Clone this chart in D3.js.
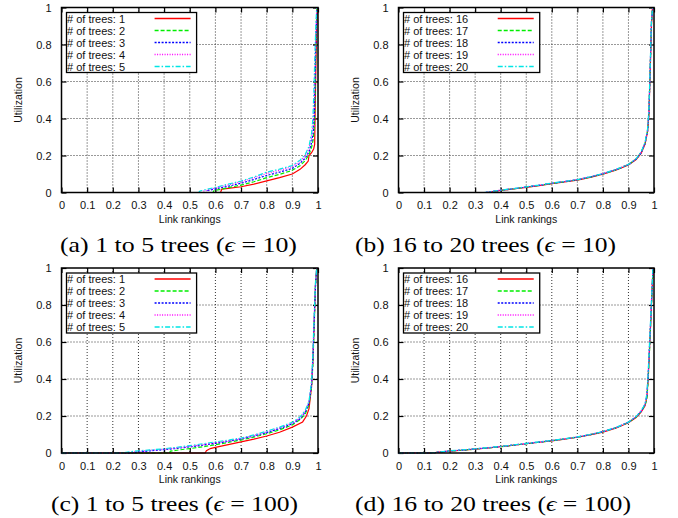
<!DOCTYPE html>
<html>
<head>
<meta charset="utf-8">
<script src="https://d3js.org/d3.v7.min.js"></script>
<style>
  body { margin: 0; background: #fff; }
  svg text { font-family: "Liberation Sans", Arial, sans-serif; fill: #111; }
</style>
</head>
<body>
<svg id="fig" width="678" height="518"></svg>
<script>
// tick values / labels
var xTicks = [0, 0.1, 0.2, 0.3, 0.4, 0.5, 0.6, 0.7, 0.8, 0.9, 1];
var yTicks = [0, 0.2, 0.4, 0.6, 0.8, 1];
var treesLow = ["# of trees: 1", "# of trees: 2", "# of trees: 3", "# of trees: 4", "# of trees: 5"];
var treesHigh = ["# of trees: 16", "# of trees: 17", "# of trees: 18", "# of trees: 19", "# of trees: 20"];

// (a) 1 to 5 trees, eps = 10   -- [link ranking, utilization]
var a1 = [[0,0],[0.62,0],[0.625,0.018],[0.65,0.022],[0.7,0.031],[0.75,0.045],[0.8,0.063],[0.85,0.08],[0.9,0.1],[0.93,0.125],[0.95,0.15],[0.962,0.17],[0.965,0.2],[0.975,0.215],[0.983,0.235],[0.987,0.26],[0.989,0.45],[0.992,0.7],[0.995,0.9],[0.997,1]];
var a2 = [[0,0],[0.59,0],[0.595,0.01],[0.65,0.026],[0.7,0.04],[0.75,0.058],[0.8,0.08],[0.85,0.098],[0.9,0.12],[0.93,0.145],[0.95,0.172],[0.965,0.205],[0.975,0.245],[0.982,0.29],[0.986,0.37],[0.989,0.55],[0.992,0.8],[0.996,1]];
var a3 = [[0,0],[0.565,0],[0.57,0.01],[0.6,0.02],[0.65,0.034],[0.7,0.05],[0.75,0.07],[0.8,0.092],[0.85,0.11],[0.9,0.13],[0.93,0.158],[0.95,0.185],[0.965,0.22],[0.975,0.27],[0.982,0.33],[0.986,0.43],[0.989,0.65],[0.992,0.85],[0.996,1]];
var a4 = [[0,0],[0.55,0],[0.555,0.008],[0.6,0.025],[0.65,0.041],[0.7,0.058],[0.75,0.079],[0.8,0.103],[0.85,0.12],[0.9,0.14],[0.93,0.168],[0.95,0.198],[0.965,0.24],[0.975,0.3],[0.981,0.37],[0.985,0.5],[0.989,0.72],[0.993,0.9],[0.996,1]];
var a5 = [[0,0],[0.535,0],[0.54,0.008],[0.6,0.028],[0.65,0.045],[0.7,0.062],[0.75,0.084],[0.8,0.11],[0.85,0.126],[0.9,0.146],[0.93,0.175],[0.95,0.205],[0.965,0.25],[0.975,0.32],[0.98,0.4],[0.984,0.55],[0.988,0.75],[0.992,0.92],[0.995,1]];

// (b) 16 to 20 trees, eps = 10
var b1 = [[0,0],[0.35,0],[0.4,0.011],[0.45,0.019],[0.5,0.028],[0.55,0.037],[0.6,0.048],[0.65,0.057],[0.7,0.067],[0.75,0.082],[0.8,0.099],[0.85,0.121],[0.9,0.149],[0.93,0.178],[0.95,0.213],[0.965,0.262],[0.975,0.33],[0.98,0.42],[0.985,0.65],[0.99,0.9],[0.994,1]];
var b2 = [[0,0],[0.345,0],[0.4,0.012],[0.45,0.02],[0.5,0.029],[0.55,0.038],[0.6,0.049],[0.65,0.058],[0.7,0.068],[0.75,0.083],[0.8,0.1],[0.85,0.122],[0.9,0.151],[0.93,0.181],[0.95,0.218],[0.965,0.268],[0.975,0.335],[0.98,0.43],[0.985,0.66],[0.99,0.91],[0.994,1]];
var b3 = [[0,0],[0.34,0],[0.4,0.012],[0.45,0.02],[0.5,0.03],[0.55,0.039],[0.6,0.05],[0.65,0.059],[0.7,0.069],[0.75,0.084],[0.8,0.101],[0.85,0.123],[0.9,0.15],[0.93,0.18],[0.95,0.215],[0.965,0.265],[0.975,0.333],[0.98,0.425],[0.985,0.66],[0.99,0.92],[0.995,1]];
var b4 = [[0,0],[0.34,0],[0.4,0.013],[0.45,0.021],[0.5,0.03],[0.55,0.039],[0.6,0.05],[0.65,0.06],[0.7,0.07],[0.75,0.085],[0.8,0.102],[0.85,0.124],[0.9,0.152],[0.93,0.182],[0.95,0.218],[0.965,0.27],[0.975,0.34],[0.98,0.44],[0.985,0.67],[0.99,0.92],[0.995,1]];
var b5 = [[0,0],[0.335,0],[0.4,0.013],[0.45,0.021],[0.5,0.031],[0.55,0.04],[0.6,0.051],[0.65,0.06],[0.7,0.07],[0.75,0.085],[0.8,0.102],[0.85,0.124],[0.9,0.152],[0.93,0.183],[0.95,0.22],[0.965,0.272],[0.975,0.345],[0.98,0.45],[0.985,0.68],[0.99,0.93],[0.995,1]];

// (c) 1 to 5 trees, eps = 100
var c1 = [[0,0],[0.56,0],[0.565,0.012],[0.58,0.024],[0.6,0.03],[0.65,0.045],[0.7,0.06],[0.75,0.075],[0.8,0.092],[0.85,0.112],[0.9,0.14],[0.94,0.168],[0.955,0.2],[0.965,0.24],[0.975,0.36],[0.98,0.5],[0.985,0.7],[0.99,0.9],[0.995,1]];
var c2 = [[0,0],[0.42,0],[0.425,0.01],[0.45,0.015],[0.5,0.024],[0.55,0.033],[0.6,0.045],[0.65,0.057],[0.7,0.07],[0.75,0.086],[0.8,0.104],[0.85,0.125],[0.9,0.152],[0.93,0.18],[0.95,0.21],[0.965,0.26],[0.975,0.36],[0.98,0.48],[0.985,0.68],[0.99,0.9],[0.995,1]];
var c3 = [[0,0],[0.28,0],[0.3,0.006],[0.35,0.012],[0.4,0.018],[0.45,0.025],[0.5,0.033],[0.55,0.042],[0.6,0.052],[0.65,0.063],[0.7,0.076],[0.75,0.092],[0.8,0.11],[0.85,0.132],[0.9,0.158],[0.93,0.185],[0.95,0.22],[0.965,0.27],[0.975,0.37],[0.98,0.5],[0.985,0.7],[0.99,0.9],[0.995,1]];
var c4 = [[0,0],[0.25,0],[0.3,0.009],[0.35,0.015],[0.4,0.021],[0.45,0.028],[0.5,0.036],[0.55,0.045],[0.6,0.055],[0.65,0.066],[0.7,0.078],[0.75,0.095],[0.8,0.114],[0.85,0.136],[0.9,0.162],[0.93,0.19],[0.95,0.225],[0.965,0.275],[0.975,0.38],[0.98,0.52],[0.985,0.72],[0.99,0.91],[0.995,1]];
var c5 = [[0,0],[0.23,0],[0.3,0.012],[0.35,0.017],[0.4,0.023],[0.45,0.031],[0.5,0.04],[0.55,0.05],[0.6,0.06],[0.65,0.07],[0.7,0.081],[0.75,0.098],[0.8,0.118],[0.85,0.14],[0.9,0.166],[0.93,0.195],[0.95,0.23],[0.965,0.28],[0.975,0.39],[0.98,0.54],[0.985,0.74],[0.99,0.92],[0.995,1]];

// (d) 16 to 20 trees, eps = 100
var d1 = [[0,0],[0.13,0],[0.15,0.003],[0.2,0.01],[0.25,0.015],[0.3,0.021],[0.35,0.027],[0.4,0.034],[0.45,0.042],[0.5,0.05],[0.55,0.058],[0.6,0.066],[0.65,0.075],[0.7,0.085],[0.75,0.098],[0.8,0.113],[0.85,0.134],[0.9,0.163],[0.93,0.192],[0.95,0.222],[0.965,0.255],[0.972,0.3],[0.977,0.4],[0.982,0.55],[0.987,0.7],[0.992,0.86],[0.996,1]];
var d2 = [[0,0],[0.135,0],[0.15,0.003],[0.2,0.01],[0.25,0.015],[0.3,0.021],[0.35,0.027],[0.4,0.034],[0.45,0.042],[0.5,0.05],[0.55,0.058],[0.6,0.067],[0.65,0.076],[0.7,0.086],[0.75,0.099],[0.8,0.115],[0.85,0.136],[0.9,0.165],[0.93,0.195],[0.95,0.225],[0.965,0.26],[0.972,0.29],[0.977,0.39],[0.982,0.54],[0.987,0.7],[0.992,0.86],[0.996,1]];
var d3s = [[0,0],[0.13,0],[0.15,0.003],[0.2,0.011],[0.25,0.016],[0.3,0.022],[0.35,0.028],[0.4,0.035],[0.45,0.043],[0.5,0.051],[0.55,0.059],[0.6,0.067],[0.65,0.076],[0.7,0.086],[0.75,0.099],[0.8,0.115],[0.85,0.136],[0.9,0.166],[0.93,0.196],[0.95,0.226],[0.965,0.262],[0.972,0.31],[0.977,0.41],[0.982,0.56],[0.987,0.71],[0.992,0.87],[0.996,1]];
var d4 = [[0,0],[0.125,0],[0.15,0.004],[0.2,0.011],[0.25,0.016],[0.3,0.022],[0.35,0.028],[0.4,0.035],[0.45,0.043],[0.5,0.051],[0.55,0.059],[0.6,0.068],[0.65,0.077],[0.7,0.087],[0.75,0.1],[0.8,0.116],[0.85,0.137],[0.9,0.167],[0.93,0.197],[0.95,0.228],[0.965,0.265],[0.972,0.31],[0.977,0.42],[0.982,0.57],[0.987,0.72],[0.992,0.88],[0.996,1]];
var d5 = [[0,0],[0.125,0],[0.15,0.004],[0.2,0.012],[0.25,0.017],[0.3,0.023],[0.35,0.029],[0.4,0.036],[0.45,0.044],[0.5,0.052],[0.55,0.06],[0.6,0.068],[0.65,0.077],[0.7,0.087],[0.75,0.1],[0.8,0.116],[0.85,0.137],[0.9,0.167],[0.93,0.197],[0.95,0.228],[0.965,0.266],[0.972,0.32],[0.977,0.43],[0.982,0.58],[0.987,0.73],[0.992,0.88],[0.996,1]];

var lineColors = ["#ff0000", "#00ee00", "#0000ff", "#ff00ff", "#00e5e5"];
var lineDashes = [null, "4,2", "2,1.5", "1,1.5", "5,2,1.5,2"];

var panels = [
  {left: 61.5, top: 7.5, w: 256.5, h: 185, series: [a1, a2, a3, a4, a5], labels: treesLow,
   cap: ["(a) 1 to 5 trees (", "\u03f5", " = 10)"], capX: 60, capY: 252, capW: 237},
  {left: 398.5, top: 7.5, w: 255.5, h: 185, series: [b1, b2, b3, b4, b5], labels: treesHigh,
   cap: ["(b) 16 to 20 trees (", "\u03f5", " = 10)"], capX: 355, capY: 252, capW: 261},
  {left: 61.5, top: 268, w: 256.5, h: 185, series: [c1, c2, c3, c4, c5], labels: treesLow,
   cap: ["(c) 1 to 5 trees (", "\u03f5", " = 100)"], capX: 51, capY: 511, capW: 247},
  {left: 398.5, top: 268, w: 255.5, h: 185, series: [d1, d2, d3s, d4, d5], labels: treesHigh,
   cap: ["(d) 16 to 20 trees (", "\u03f5", " = 100)"], capX: 355, capY: 511, capW: 276}
];

var svg = d3.select("#fig");

panels.forEach(function(p) {
  var x = d3.scaleLinear().domain([0, 1]).range([0, p.w]),
      y = d3.scaleLinear().domain([0, 1]).range([p.h, 0]);

  var g = svg.append("g").attr("transform", "translate(" + p.left + "," + p.top + ")");

  // dotted grid
  g.append("g").selectAll("line").data(xTicks.slice(1, -1)).enter().append("line")
    .attr("x1", x).attr("x2", x).attr("y1", 0).attr("y2", p.h)
    .attr("stroke", "#333").attr("stroke-dasharray", "1,2").attr("stroke-width", 1);
  g.append("g").selectAll("line").data(yTicks.slice(1, -1)).enter().append("line")
    .attr("y1", y).attr("y2", y).attr("x1", 0).attr("x2", p.w)
    .attr("stroke", "#333").attr("stroke-dasharray", "1,2").attr("stroke-width", 1);

  // axes: ticks inward, mirrored on top/right
  var xb = d3.axisBottom(x).tickValues(xTicks).tickSize(-5).tickPadding(9).tickFormat(d3.format("~g"));
  var yl = d3.axisLeft(y).tickValues(yTicks).tickSize(-5).tickPadding(10).tickFormat(d3.format("~g"));
  var xt = d3.axisTop(x).tickValues(xTicks).tickSize(-5).tickFormat("");
  var yr = d3.axisRight(y).tickValues(yTicks).tickSize(-5).tickFormat("");

  [[xb, "translate(0," + p.h + ")"], [yl, null], [xt, null], [yr, "translate(" + p.w + ",0)"]].forEach(function(a) {
    var ag = g.append("g").call(a[0]);
    if (a[1]) ag.attr("transform", a[1]);
    ag.select(".domain").remove();
    ag.selectAll("line").attr("stroke", "#000").attr("stroke-width", 1.2);
    ag.selectAll("text").attr("font-size", 11).attr("fill", "#111")
      .style("font-family", '"Liberation Sans", Arial, sans-serif');
  });

  // curves
  var line = d3.line().x(function(d) { return x(d[0]); }).y(function(d) { return y(d[1]); });
  p.series.forEach(function(s, i) {
    g.append("path").datum(s).attr("d", line)
      .attr("fill", "none").attr("stroke", lineColors[i]).attr("stroke-width", 1.2)
      .attr("stroke-dasharray", lineDashes[i]);
  });

  // border
  g.append("rect").attr("width", p.w).attr("height", p.h)
    .attr("fill", "none").attr("stroke", "#000").attr("stroke-width", 1.5);

  // legend
  var lg = g.append("g").attr("transform", "translate(5,5)");
  var bg = lg.append("rect").attr("fill", "#fff").attr("stroke", "#000").attr("stroke-width", 1.3);
  var tw = 0;
  p.labels.forEach(function(lbl, i) {
    var t = lg.append("text").attr("x", 0.5).attr("y", 10 + 12 * i).attr("font-size", 11).text(lbl);
    tw = Math.max(tw, t.node().getComputedTextLength());
  });
  var sx = tw + 30;
  p.labels.forEach(function(lbl, i) {
    lg.append("line").attr("x1", sx).attr("x2", sx + 36)
      .attr("y1", 6 + 12 * i).attr("y2", 6 + 12 * i)
      .attr("stroke", lineColors[i]).attr("stroke-width", 1.3).attr("stroke-dasharray", lineDashes[i]);
  });
  bg.attr("x", 0).attr("y", 0).attr("width", sx + 42).attr("height", 60);

  // axis titles
  g.append("text").attr("x", p.w / 2).attr("y", p.h + 30).attr("text-anchor", "middle")
    .attr("font-size", 10.5).text("Link rankings");
  g.append("text").attr("transform", "translate(-40," + (p.h / 2) + ") rotate(-90)")
    .attr("text-anchor", "middle").attr("font-size", 10.5).text("Utilization");

  // caption
  var cap = svg.append("text").attr("x", p.capX).attr("y", p.capY)
    .style("font-family", '"Liberation Serif", "Times New Roman", serif').style("fill", "#000")
    .attr("font-size", 22).attr("textLength", p.capW).attr("lengthAdjust", "spacingAndGlyphs");
  cap.append("tspan").text(p.cap[0]);
  cap.append("tspan").attr("font-style", "italic").text(p.cap[1]);
  cap.append("tspan").text(p.cap[2]);
});
</script>
</body>
</html>
